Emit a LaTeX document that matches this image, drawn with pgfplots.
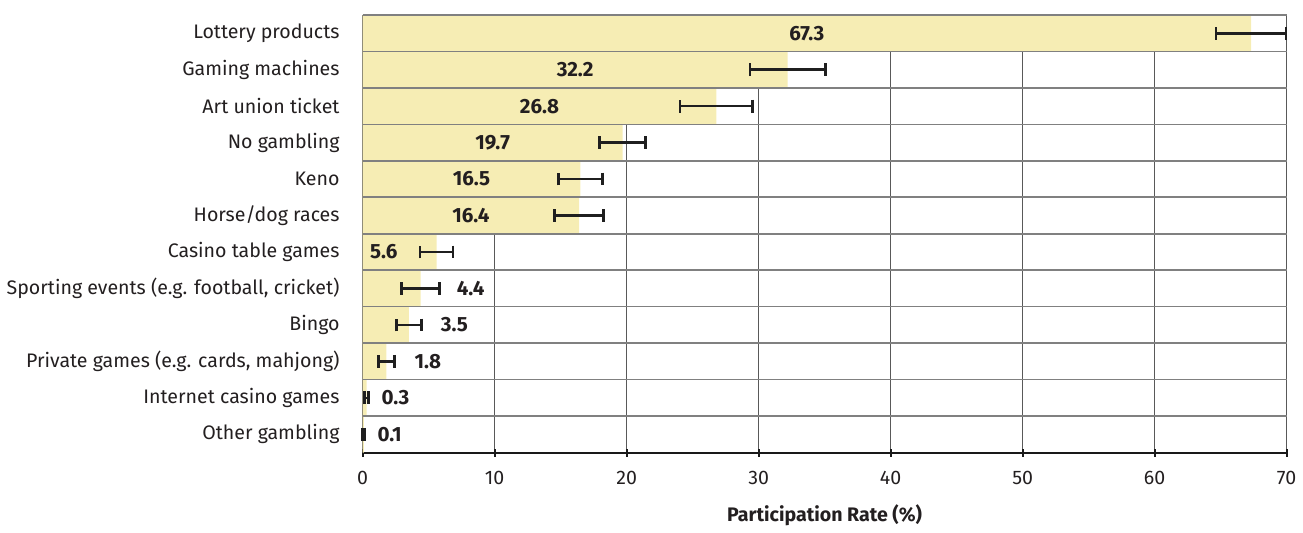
\documentclass[border=0pt]{standalone}
\usepackage{pgfplots}
\pgfplotsset{compat=1.18}
\usepackage{fontspec}
\setmainfont{Fira Sans}
\definecolor{barfill}{HTML}{F6EDB4}
\definecolor{txt}{HTML}{231F20}
\begin{document}
\begin{tikzpicture}[font=\fontsize{9.8}{12}\selectfont, text=txt]
\begin{axis}[
  scale only axis,
  width=462.5pt, height=219pt,
  xmin=0, xmax=70, ymin=-0.5, ymax=11.5,
  xtick={0,10,...,70},
  ytick={0,...,11},
  yticklabels={Other gambling, Internet casino games, {Private games (e.g. cards, mahjong)}, Bingo, {Sporting events (e.g. football, cricket)}, Casino table games, Horse/dog races, Keno, No gambling, Art union ticket, Gaming machines, Lottery products},
  y tick style={draw=none},
  yticklabel style={xshift=-6pt},
  axis y line*=left,
  y axis line style={draw=none},
  axis x line*=bottom,
  x axis line style={line width=1pt, black!90},
  x tick style={line width=1pt, black!90},
  tick align=center,
  major tick length=4pt,
  xticklabel style={yshift=-4pt},
  xmajorgrids,
  major grid style={black!65, line width=0.6pt},
  xlabel={\bfseries Participation Rate (\%)},
  xlabel style={yshift=-3pt},
  /pgf/number format/assume math mode=true,
  clip=false,
]
\addplot[xbar, bar width=1, fill=barfill, draw=none,
  error bars/.cd, x dir=both, x explicit, error mark=|,
  error bar style={draw=black!88, line width=1.3pt},
  error mark options={draw=black!88, line width=1.4pt, mark size=3.2pt}]
  coordinates {
  (67.3,11) +- (2.65,0)
  (32.2,10) +- (2.85,0)
  (26.8,9) +- (2.75,0)
  (19.7,8) +- (1.75,0)
  (16.5,7) +- (1.65,0)
  (16.4,6) +- (1.85,0)
  (5.6,5) +- (1.25,0)
  (4.4,4) +- (1.43,0)
  (3.5,3) +- (0.95,0)
  (1.8,2) +- (0.6,0)
  (0.3,1) +- (0.15,0)
  (0.1,0) +- (0.08,0)
  };
\pgfplotsinvokeforeach{0.5,1.5,2.5,3.5,4.5,5.5,6.5,7.5,8.5,9.5,10.5,11.5}{
  \draw[black!50, line width=0.8pt] (axis cs:0,#1) -- (axis cs:70,#1);
}
\addplot[draw=none, mark=none, nodes near coords, point meta=explicit symbolic,
  every node near coord/.style={anchor=center, font=\fontsize{10.3}{12}\selectfont\bfseries, text=txt}]
  coordinates {
  (33.65,11) [67.3]
  (16.1,10) [32.2]
  (13.4,9) [26.8]
  (9.85,8) [19.7]
  (8.25,7) [16.5]
  (8.2,6) [16.4]
  (1.6,5) [5.6]
  };
\addplot[draw=none, mark=none, nodes near coords, point meta=explicit symbolic,
  every node near coord/.style={anchor=west, font=\fontsize{10.3}{12}\selectfont\bfseries, text=txt}]
  coordinates {
  (6.6,4) [4.4]
  (5.4,3) [3.5]
  (3.4,2) [1.8]
  (0.9,1) [0.3]
  (0.6,0) [0.1]
  };
\end{axis}
\path (current axis.north) ++(0,7.5pt);
\path (current axis.east) ++(4pt,0);
\path (current axis.west) ++(-180pt,0);
\path (current axis.south) ++(0,-34pt);
\end{tikzpicture}
\end{document}
